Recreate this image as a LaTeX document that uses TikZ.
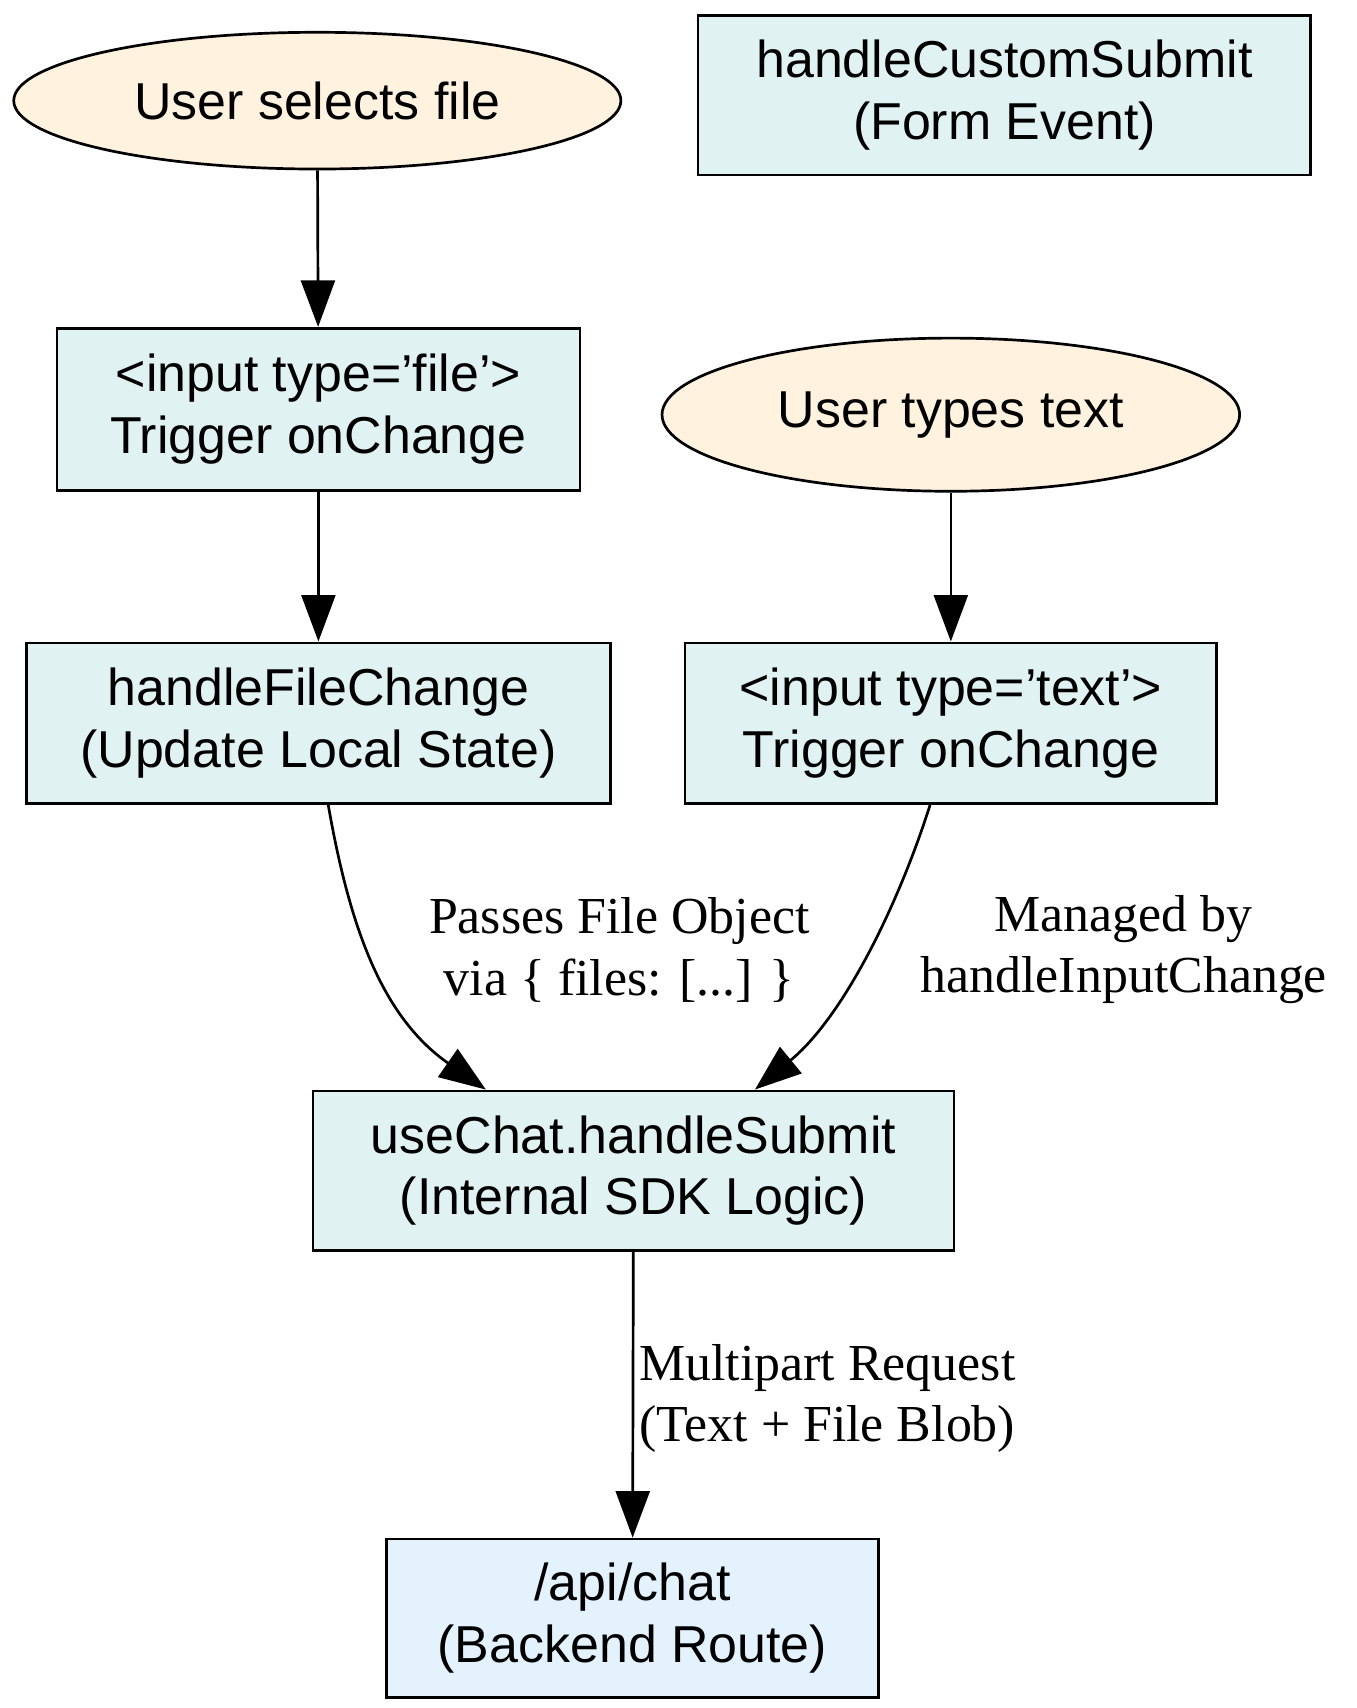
\documentclass[tikz,border=0pt]{standalone}
\usepackage{fontspec}
\setmainfont{Liberation Sans}
\newfontfamily\labelfont{Liberation Serif}
\usetikzlibrary{arrows.meta,shapes.geometric,calc}
\definecolor{userfill}{HTML}{FFF3E0}
\definecolor{stepfill}{HTML}{E0F2F1}
\definecolor{routefill}{HTML}{E3F2FD}
\tikzset{
  stage/.style={draw, line width=1.4pt, fill=stepfill, align=center, inner sep=0pt},
  user/.style={draw, ellipse, line width=1.4pt, fill=userfill, inner sep=0pt},
  flow/.style={line width=1.4pt, -{Triangle[length=0.85cm,width=0.62cm]}},
  lbl/.style={font=\labelfont\fontsize{27}{32}\selectfont, align=center}
}
\begin{document}
\begin{tikzpicture}[x=0.02cm, y=-0.02cm, font=\fontsize{27}{32}\selectfont]
\useasboundingbox (0,0) rectangle (1240,1561);
% people
\node (sel) [user, minimum width=11.1cm, minimum height=2.5cm] at (290,92) {User selects file};
\node (typ) [user, minimum width=10.56cm, minimum height=2.8cm] at (869,379) {User types text};
% boxes
\node (custom) [stage, minimum width=11.2cm, minimum height=2.92cm] at (918,87) {handleCustomSubmit\\(Form Event)};
\node (finput) [stage, minimum width=9.56cm, minimum height=2.96cm] at (291,374) {<input type='file'>\\Trigger onChange};
\node (fchange) [stage, minimum width=10.68cm, minimum height=2.94cm] at (291,661) {handleFileChange\\(Update Local State)};
\node (tinput) [stage, minimum width=9.72cm, minimum height=2.94cm] at (869,661) {<input type='text'>\\Trigger onChange};
\node (submit) [stage, minimum width=11.72cm, minimum height=2.92cm] at (579,1070) {useChat.handleSubmit\\(Internal SDK Logic)};
\node (api) [stage, fill=routefill, minimum width=9cm, minimum height=2.9cm] at (578,1479) {/api/chat\\(Backend Route)};
% edges
\draw[flow] (sel) -- (finput);
\draw[flow] (finput) -- (fchange);
\draw[flow] (typ) -- (tinput);
\draw[flow] ([xshift=0.18cm]fchange.south) .. controls (320,850) and (350,930) .. ([xshift=-2.7cm]submit.north);
\draw[flow] ([xshift=-0.38cm]tinput.south) .. controls (820,830) and (770,930) .. ([xshift=2.22cm]submit.north);
\draw[flow] (submit) -- (api);
% labels
\node (lfile) [lbl] at (566,868) {Passes File Object\\via \{ files: [...] \}};
\node (ltext) [lbl] at (1027,868) {Managed by\\handleInputChange};
\node (lreq) [lbl, align=left, anchor=west] at (578,1278) {Multipart Request\\(Text + File Blob)};
\end{tikzpicture}
\end{document}
